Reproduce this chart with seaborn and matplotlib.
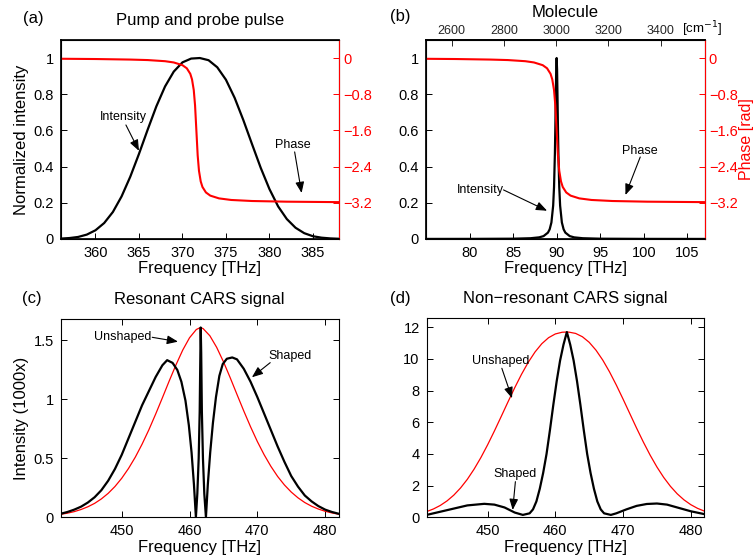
import matplotlib
matplotlib.use("Agg")
import matplotlib.pyplot as plt
import seaborn as sns

# THz -> wavenumber (cm^-1), for the top axis of panel (b)
THZ_TO_CM = 33.356

# ---------------- (a) pump and probe pulse ----------------
a_freq = [356, 357, 358, 359, 360, 361, 362, 363, 364, 365, 366, 367, 368, 369, 370, 371,
          372, 373, 374, 375, 376, 377, 378, 379, 380, 381, 382, 383, 384, 385, 386, 387, 388]
a_intensity = [0.002, 0.005, 0.011, 0.024, 0.048, 0.088, 0.149, 0.235, 0.344, 0.470, 0.604,
               0.733, 0.843, 0.925, 0.976, 0.997, 1.000, 0.988, 0.949, 0.880, 0.780, 0.657,
               0.524, 0.393, 0.276, 0.180, 0.110, 0.062, 0.032, 0.015, 0.007, 0.003, 0.001]
a_phase_freq = [356, 360, 364, 366, 368, 369, 370, 370.5, 370.9, 371.1, 371.3, 371.45, 371.6,
                371.75, 371.9, 372.1, 372.3, 372.7, 373.2, 374.2, 375.6, 378, 382, 388]
a_phase = [-0.016, -0.022, -0.034, -0.045, -0.070, -0.098, -0.158, -0.227, -0.349, -0.473,
           -0.708, -1.049, -1.600, -2.151, -2.493, -2.728, -2.851, -2.972, -3.042, -3.103,
           -3.138, -3.161, -3.176, -3.186]

# ---------------- (b) molecule ----------------
b_freq = [75, 80, 85, 87, 88, 88.5, 89, 89.2, 89.4, 89.6, 89.7, 89.8, 89.85, 89.9, 89.95, 90.0,
          90.05, 90.1, 90.15, 90.2, 90.3, 90.4, 90.6, 90.8, 91, 91.5, 92, 93, 95, 100, 107]
b_intensity = [0.0002, 0.0004, 0.0014, 0.004, 0.0089, 0.0158, 0.0349, 0.0534, 0.0911, 0.184,
               0.286, 0.474, 0.616, 0.783, 0.935, 1.0, 0.935, 0.783, 0.616, 0.474, 0.286,
               0.184, 0.0911, 0.0534, 0.0349, 0.0158, 0.0089, 0.004, 0.0014, 0.0004, 0.0001]
b_phase_freq = [75, 78.4, 82.4, 84.4, 86.4, 87.4, 88.4, 88.9, 89.3, 89.5, 89.7, 89.85, 90.0,
                90.15, 90.3, 90.5, 90.7, 91.1, 91.6, 92.6, 94.0, 96.4, 100.4, 107]
b_phase = [-0.017, -0.022, -0.034, -0.045, -0.070, -0.098, -0.158, -0.227, -0.349, -0.473,
           -0.708, -1.049, -1.600, -2.151, -2.493, -2.728, -2.851, -2.972, -3.042, -3.103,
           -3.138, -3.161, -3.176, -3.186]
b_top_ticks = [2600, 2800, 3000, 3200, 3400]

# ---------------- (c) resonant CARS signal ----------------
c_unshaped_freq = [441, 442, 443, 444, 445, 446, 447, 448, 449, 450, 451, 452, 453, 454, 455,
                   456, 457, 458, 459, 460, 461, 461.6, 462, 463, 464, 465, 466, 467, 468, 469,
                   470, 471, 472, 473, 474, 475, 476, 477, 478, 479, 480, 481, 482]
c_unshaped = [0.025, 0.035, 0.048, 0.066, 0.089, 0.118, 0.156, 0.203, 0.261, 0.331, 0.414,
              0.510, 0.620, 0.742, 0.875, 1.014, 1.156, 1.293, 1.419, 1.523, 1.593, 1.610,
              1.601, 1.540, 1.442, 1.320, 1.184, 1.042, 0.902, 0.768, 0.643, 0.531, 0.432,
              0.346, 0.274, 0.214, 0.165, 0.125, 0.094, 0.070, 0.051, 0.037, 0.026]
c_shaped_freq = [441, 442, 443, 444, 445, 446, 447, 448, 449, 450, 451, 452, 453, 454, 455, 456,
                 456.7, 457.5, 458.2, 458.8, 459.4, 459.9, 460.3, 460.65, 460.94,
                 461.15, 461.35, 461.5, 461.6, 461.65, 461.72, 461.82, 461.98, 462.18, 462.42,
                 462.7, 463.05, 463.45, 463.9, 464.4, 464.9, 465.5, 466.3,
                 467, 468, 469, 470, 471, 472, 473, 474, 475, 476, 477, 478, 479, 480, 481, 482]
c_shaped = [0.03, 0.045, 0.065, 0.09, 0.125, 0.17, 0.23, 0.31, 0.41, 0.53, 0.67, 0.81, 0.95,
            1.07, 1.19, 1.29, 1.333, 1.31, 1.25, 1.15, 0.99, 0.78, 0.55, 0.28, 0.0,
            0.2, 0.5, 0.9, 1.4, 1.61, 1.4, 0.9, 0.5, 0.2, 0.0,
            0.28, 0.55, 0.8, 1.02, 1.2, 1.3, 1.345, 1.356,
            1.34, 1.26, 1.15, 1.02, 0.88, 0.74, 0.60, 0.47, 0.35, 0.26, 0.185, 0.135, 0.095,
            0.065, 0.045, 0.03]

# ---------------- (d) non-resonant CARS signal ----------------
d_unshaped_freq = c_unshaped_freq
d_unshaped = [0.362, 0.526, 0.746, 1.033, 1.398, 1.852, 2.397, 3.040, 3.769, 4.579, 5.451,
              6.361, 7.282, 8.182, 9.028, 9.789, 10.441, 10.963, 11.343, 11.580, 11.687, 11.700,
              11.695, 11.612, 11.402, 11.051, 10.556, 9.930, 9.187, 8.356, 7.465, 6.547, 5.630,
              4.749, 3.925, 3.178, 2.519, 1.954, 1.482, 1.100, 0.798, 0.565, 0.391]
d_shaped_freq = [441.0, 443.0, 445.0, 447.0, 449.5, 451.0, 452.5, 454.0, 455.2, 456.2, 456.7,
                 457.2, 457.7, 458.2, 458.7, 459.2, 459.7, 460.2, 460.7, 461.2, 461.45, 461.7,
                 461.95, 462.2, 462.7, 463.2, 463.7, 464.2, 464.7, 465.2, 465.7, 466.2, 466.7,
                 467.2, 468.2, 469.0, 470.5, 472.0, 473.5, 475.0, 476.5, 478.0, 480.0, 482.0]
d_shaped = [0.15, 0.35, 0.55, 0.75, 0.85, 0.80, 0.62, 0.30, 0.15, 0.25, 0.5, 1.0, 1.8, 2.8,
            4.0, 5.5, 7.1, 8.6, 9.9, 10.9, 11.3, 11.7, 11.3, 10.9, 9.9, 8.6, 7.1, 5.5, 4.0,
            2.8, 1.8, 1.0, 0.5, 0.25, 0.15, 0.25, 0.5, 0.72, 0.84, 0.87, 0.80, 0.62, 0.38, 0.20]

TICK_FS = 10.5
LABEL_FS = 12
NOTE_FS = 9


def style_axis(ax, top=True, right=True):
    ax.tick_params(direction='in', length=4, width=0.7, labelsize=TICK_FS, pad=5,
                   top=top, right=right, colors='black')
    for s in ax.spines.values():
        s.set_linewidth(0.8)
        s.set_color('black')


def phase_axis(ax, freq, phase):
    ax2 = ax.twinx()
    sns.lineplot(x=freq, y=phase, color='red', linewidth=1.5, ax=ax2)
    ax2.set_ylim(-4, 0.4)
    ax2.set_yticks([-3.2, -2.4, -1.6, -0.8, 0])
    ax2.set_yticklabels(['\u22123.2', '\u22122.4', '\u22121.6', '\u22120.8', '0'])
    ax2.tick_params(axis='y', direction='in', length=4, width=0.7, labelsize=TICK_FS,
                    pad=3, colors='red')
    ax2.spines['right'].set_color('red')
    ax2.spines['right'].set_linewidth(0.8)
    return ax2


def note(ax, text, text_xy, start, tip):
    ax.text(text_xy[0], text_xy[1], text, fontsize=NOTE_FS, ha='center', va='center')
    ax.annotate('', xy=tip, xytext=start,
                arrowprops=dict(arrowstyle='-|>,head_length=0.55,head_width=0.22',
                                color='black', lw=0.8, shrinkA=0, shrinkB=0,
                                mutation_scale=12))


def main():
    sns.set_theme(style='ticks', rc={'axes.edgecolor': 'black', 'text.color': 'black',
                                     'axes.labelcolor': 'black'})
    plt.rcParams['font.family'] = ['Liberation Sans', 'DejaVu Sans']

    fig = plt.figure(figsize=(7.54, 5.57), dpi=100)

    # (a)
    ax = fig.add_axes([0.0805, 0.571, 0.3691, 0.3573])
    sns.lineplot(x=a_freq, y=a_intensity, color='black', linewidth=1.6, ax=ax)
    ax.set_xlim(356, 388)
    ax.set_ylim(0, 1.1)
    ax.set_yticks([0, 0.2, 0.4, 0.6, 0.8, 1])
    ax.set_yticklabels(['0', '0.2', '0.4', '0.6', '0.8', '1'])
    ax.set_xticks([360, 365, 370, 375, 380, 385])
    style_axis(ax, top=False, right=False)
    ax.set_xlabel('Frequency [THz]', fontsize=LABEL_FS, labelpad=1)
    ax.set_ylabel('Normalized intensity', fontsize=LABEL_FS, labelpad=3)
    ax.set_title('Pump and probe pulse', fontsize=LABEL_FS, pad=11)
    phase_axis(ax, a_phase_freq, a_phase)
    note(ax, 'Intensity', (363.2, 0.673), (363.5, 0.63), (365.0, 0.487))
    note(ax, 'Phase', (382.7, 0.52), (382.9, 0.481), (383.7, 0.254))

    # (b)
    ax = fig.add_axes([0.565, 0.571, 0.3696, 0.3573])
    sns.lineplot(x=b_freq, y=b_intensity, color='black', linewidth=1.6, ax=ax)
    ax.set_xlim(75, 107)
    ax.set_ylim(0, 1.1)
    ax.set_yticks([0, 0.2, 0.4, 0.6, 0.8, 1])
    ax.set_yticklabels(['0', '0.2', '0.4', '0.6', '0.8', '1'])
    ax.set_xticks([80, 85, 90, 95, 100, 105])
    style_axis(ax, top=False, right=False)
    ax.set_xlabel('Frequency [THz]', fontsize=LABEL_FS, labelpad=1)
    ax2 = phase_axis(ax, b_phase_freq, b_phase)
    ax2.set_ylabel('Phase [rad]', fontsize=11.5, color='red', labelpad=1)
    sec = ax.secondary_xaxis('top', functions=(lambda f: f * THZ_TO_CM,
                                               lambda k: k / THZ_TO_CM))
    sec.set_xticks(b_top_ticks)
    sec.tick_params(direction='in', length=4, width=0.7, labelsize=9, pad=2)
    ax.text(0.5, 1.1156, 'Molecule', transform=ax.transAxes, fontsize=LABEL_FS,
            ha='center', va='baseline')
    fig.text(702 / 754, 1 - 29 / 557, '[cm$^{-1}$]', fontsize=9.5, ha='center', va='center')
    note(ax, 'Intensity', (81.2, 0.271), (83.9, 0.271), (88.9, 0.156))
    note(ax, 'Phase', (99.6, 0.486), (99.6, 0.453), (97.9, 0.243))

    # (c)
    ax = fig.add_axes([0.0805, 0.0713, 0.3687, 0.3555])
    sns.lineplot(x=c_unshaped_freq, y=c_unshaped, color='red', linewidth=0.9, ax=ax)
    sns.lineplot(x=c_shaped_freq, y=c_shaped, color='black', linewidth=1.6, ax=ax)
    ax.set_xlim(441, 482)
    ax.set_ylim(0, 1.68)
    ax.set_xticks([450, 460, 470, 480])
    ax.set_yticks([0, 0.5, 1, 1.5])
    ax.set_yticklabels(['0', '0.5', '1', '1.5'])
    style_axis(ax)
    ax.set_xlabel('Frequency [THz]', fontsize=LABEL_FS, labelpad=1)
    ax.set_ylabel('Intensity (1000x)', fontsize=LABEL_FS, labelpad=3)
    ax.set_title('Resonant CARS signal', fontsize=LABEL_FS, pad=11)
    note(ax, 'Unshaped', (450.2, 1.527), (454.5, 1.527), (458.3, 1.49))
    note(ax, 'Shaped', (474.8, 1.369), (471.9, 1.312), (469.2, 1.188))

    # (d)
    ax = fig.add_axes([0.5659, 0.0713, 0.3682, 0.3573])
    sns.lineplot(x=d_unshaped_freq, y=d_unshaped, color='red', linewidth=0.9, ax=ax)
    sns.lineplot(x=d_shaped_freq, y=d_shaped, color='black', linewidth=1.6, ax=ax)
    ax.set_xlim(441, 482)
    ax.set_ylim(0, 12.57)
    ax.set_xticks([450, 460, 470, 480])
    ax.set_yticks([0, 2, 4, 6, 8, 10, 12])
    style_axis(ax)
    ax.set_xlabel('Frequency [THz]', fontsize=LABEL_FS, labelpad=1)
    ax.set_title('Non\u2212resonant CARS signal', fontsize=LABEL_FS, pad=11)
    note(ax, 'Unshaped', (451.9, 9.89), (452.1, 9.41), (453.6, 7.52))
    note(ax, 'Shaped', (454.1, 2.74), (454.1, 2.25), (453.7, 0.46))

    # panel letters
    for lbl, x, y in [('(a)', 33, 18), ('(b)', 400, 17), ('(c)', 32, 298), ('(d)', 400, 298)]:
        fig.text(x / 754, 1 - y / 557, lbl, fontsize=LABEL_FS, ha='center', va='center')

    fig.savefig('out.png', dpi=100)
    plt.close(fig)


if __name__ == '__main__':
    main()
